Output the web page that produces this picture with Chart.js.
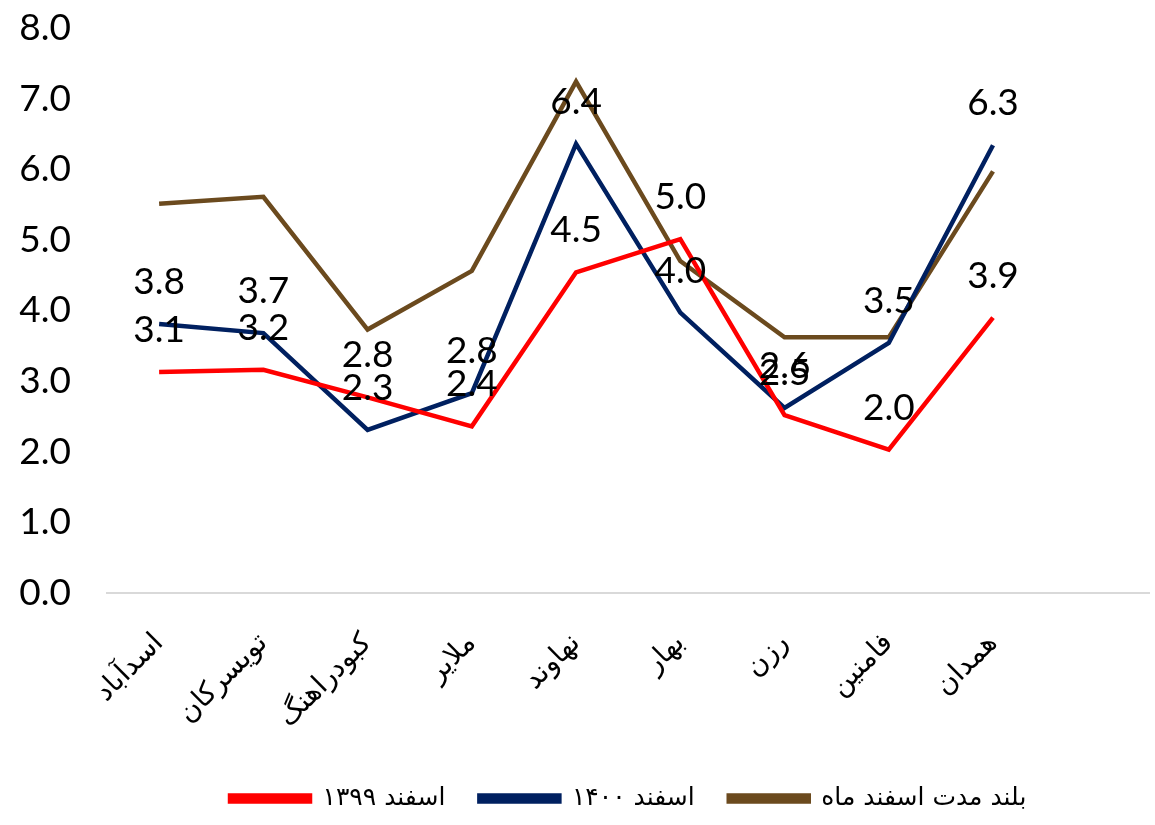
<!DOCTYPE html>
<html>
<head>
<meta charset="utf-8">
<script src="https://cdn.jsdelivr.net/npm/chart.js@4/dist/chart.umd.min.js"></script>
<style>
  html, body { margin: 0; padding: 0; background: #fff; }
  #wrap { width: 1155px; height: 825px; }
</style>
</head>
<body>
<div id="wrap"><canvas id="lineChart"></canvas></div>
<script>
const cities = ["اسدآباد", "تویسرکان", "کبودراهنگ", "ملایر", "نهاوند", "بهار", "رزن", "فامنین", "همدان", ""];
const esfand1399 = [3.13, 3.16, 2.77, 2.36, 4.54, 5.01, 2.52, 2.03, 3.90];
const esfand1400 = [3.81, 3.68, 2.31, 2.83, 6.36, 3.97, 2.62, 3.54, 6.34];
const longTerm = [5.51, 5.61, 3.73, 4.56, 7.24, 4.70, 3.62, 3.62, 5.97];
const seriesNames = ["اسفند ۱۳۹۹", "اسفند ۱۴۰۰", "بلند مدت اسفند ماه"];

const numFont = "Lato, 'Open Sans', sans-serif";
const faFont = "'DejaVu Sans', sans-serif";

// draws the value above each point of the first two series
const valueLabels = {
  id: "valueLabels",
  afterDatasetsDraw(chart) {
    const ctx = chart.ctx;
    ctx.save();
    ctx.font = "37px " + numFont;
    ctx.fillStyle = "#000";
    ctx.textAlign = "center";
    ctx.textBaseline = "middle";
    [0, 1].forEach((i) => {
      const meta = chart.getDatasetMeta(i);
      meta.data.forEach((pt, j) => {
        const v = chart.data.datasets[i].data[j];
        ctx.fillText(v.toFixed(1), pt.x, pt.y - 42);
      });
    });
    ctx.restore();
  },
};

const line = (label, data, color) => ({
  label: label,
  data: data,
  borderColor: color,
  backgroundColor: color,
  borderWidth: 4.5,
  pointRadius: 0,
  tension: 0,
  fill: false,
});

new Chart(document.getElementById("lineChart").getContext("2d"), {
  type: "line",
  data: {
    labels: cities,
    datasets: [
      line(seriesNames[0], esfand1399, "#ff0000"),
      line(seriesNames[1], esfand1400, "#002060"),
      line(seriesNames[2], longTerm, "#6b4a1e"),
    ],
  },
  options: {
    responsive: true,
    maintainAspectRatio: false,
    animation: false,
    layout: { padding: { top: 28, left: 0, right: 0, bottom: 4 } },
    plugins: {
      legend: {
        position: "bottom",
        fullSize: false,
        labels: {
          font: { family: faFont, size: 25 },
          color: "#000",
          boxWidth: 80,
          boxHeight: 6,
          padding: 34,
        },
      },
      tooltip: { enabled: false },
    },
    scales: {
      x: {
        offset: true,
        grid: { display: false, drawTicks: false },
        border: { display: true, color: "#d9d9d9", width: 2 },
        ticks: {
          color: "#000",
          font: { family: faFont, size: 28 },
          minRotation: 45,
          maxRotation: 45,
          padding: 34,
          autoSkip: false,
        },
        afterFit: (scale) => { scale.height = 159; },
      },
      y: {
        min: 0,
        max: 8,
        grid: { display: false, drawTicks: false },
        border: { display: false },
        ticks: {
          stepSize: 1,
          color: "#000",
          font: { family: numFont, size: 37 },
          padding: 36,
          callback: (v) => v.toFixed(1),
        },
        afterFit: (scale) => {
          scale.width = 107;
          scale.paddingTop = 0;
          scale.paddingBottom = 0;
        },
      },
    },
  },
  plugins: [valueLabels],
});
</script>
</body>
</html>
